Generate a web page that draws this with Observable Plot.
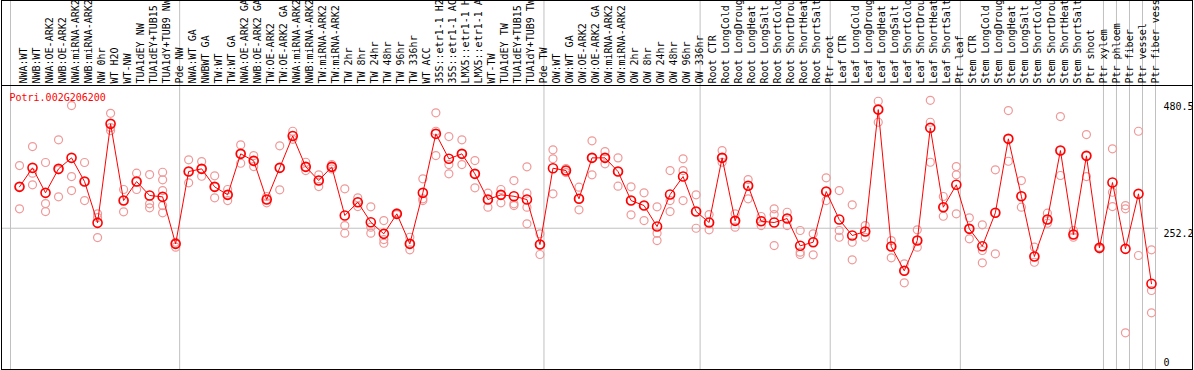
<!DOCTYPE html>
<html><head><meta charset="utf-8">
<script src="https://cdn.jsdelivr.net/npm/d3@7"></script>
<script src="https://cdn.jsdelivr.net/npm/@observablehq/plot@0.6"></script>
<style>html,body{margin:0;padding:0;background:#fff;overflow:hidden} #chart svg{display:block}</style>
</head><body><div id="chart"></div>
<script>
const geneId = "Potri.002G206200";

const samples = [
  "NWA:WT","NWB:WT","NWA:OE-ARK2","NWB:OE-ARK2","NWA:miRNA-ARK2","NWB:miRNA-ARK2","NW 0hr","WT H2O","WT-NW","TUA1dEY NW","TUA1dEY+TUB15 NW","TUA1dY+TUB9 NW","Pde NW",
  "NWA:WT GA","NWBWT GA","TW:WT","TW:WT GA","NWA:OE-ARK2 GA","NWB:OE-ARK2 GA","TW:OE-ARK2","TW:OE-ARK2 GA","NWA:miRNA-ARK2 GA","NWB:miRNA-ARK2 GA","TW:miRNA-ARK2","TW:miRNA-ARK2 GA",
  "TW 2hr","TW 8hr","TW 24hr","TW 48hr","TW 96hr","TW 336hr","WT ACC","35S::etr1-1 H2O","35S::etr1-1 ACC","LMX5::etr1-1 H2O","LMX5::etr1-1 ACC","WT-TW","TUA1dEY TW","TUA1dEY+TUB15 TW","TUA1dY+TUB9 TW","Pde TW",
  "OW:WT","OW:WT GA","OW:OE-ARK2","OW:OE-ARK2 GA","OW:miRNA-ARK2","OW:miRNA-ARK2 GA","OW 2hr","OW 8hr","OW 24hr","OW 48hr","OW 96hr","OW 336hr",
  "Root CTR","Root LongCold","Root LongDrought","Root LongHeat","Root LongSalt","Root ShortCold","Root ShortDrought","Root ShortHeat","Root ShortSalt","Ptr root",
  "Leaf CTR","Leaf LongCold","Leaf LongDrought","Leaf LongHeat","Leaf LongSalt","Leaf ShortCold","Leaf ShortDrought","Leaf ShortHeat","Leaf ShortSalt","Ptr leaf",
  "Stem CTR","Stem LongCold","Stem LongDrought","Stem LongHeat","Stem LongSalt","Stem ShortCold","Stem ShortDrought","Stem ShortHeat","Stem ShortSalt","Ptr shoot","Ptr xylem",
  "Ptr phloem","Ptr fiber","Ptr vessel","Ptr fiber vessel"
];

const means = [
  326.1, 360.0, 315.4, 358.2, 377.8, 335.5, 261.8, 438.5, 301.6, 335.5,
  310.6, 308.2, 224.3, 353.4, 358.2, 326.1, 311.8, 385.0, 372.5, 303.4,
  360.0, 416.9, 361.8, 337.3, 361.8, 274.9, 298.6, 262.9, 242.2, 277.9,
  224.3, 315.4, 420.7, 376.1, 385.0, 349.3, 303.4, 311.8, 309.3, 303.4,
  223.1, 359.3, 355.2, 304.7, 377.8, 377.8, 353.4, 301.6, 292.7, 255.2,
  312.3, 344.5, 282.0, 262.4, 377.8, 265.4, 327.9, 264.7, 262.4, 269.5,
  220.8, 227.2, 317.7, 267.7, 239.2, 246.3, 464.0, 219.5, 176.2, 230.2,
  431.4, 289.7, 329.7, 251.1, 220.1, 279.7, 411.8, 309.3, 201.7, 267.7,
  390.9, 240.9, 381.4, 217.2, 333.8, 215.4, 313.6, 153.0
];

const replicates = [
  [364.1, 326.6, 286.8], [398.0, 350.4, 329.7], [369.5, 296.3, 282.0], [410.0, 356.4, 308.2],
  [471.2, 344.5, 319.5], [369.5, 335.5, 301.6], [277.9, 271.3, 235.6], [457.4, 431.9, 426.6],
  [321.3, 301.6, 281.5], [350.4, 335.0, 321.3], [348.0, 295.7, 288.6], [352.1, 338.6, 319.5, 292.7, 279.7],
  [227.2, 224.3, 218.3], [374.3, 353.4, 333.2], [371.2, 358.2, 345.0], [345.7, 326.1, 306.4],
  [321.3, 311.8, 301.6], [401.0, 385.0, 368.2], [381.9, 372.5, 362.3], [308.8, 303.4, 297.5],
  [399.3, 360.0, 320.7], [425.3, 417.6, 411.0], [370.0, 361.8, 355.2], [347.5, 337.3, 326.6],
  [365.9, 361.8, 357.9], [322.5, 257.0, 243.3], [306.4, 298.6, 290.9], [290.4, 254.0, 243.3],
  [265.9, 232.0, 225.4], [279.7, 277.9, 276.6], [236.1, 224.3, 213.6], [340.4, 304.7, 301.6],
  [458.2, 425.3, 381.9], [415.9, 365.9, 349.3], [410.0, 385.0, 365.9], [373.0, 349.3, 324.3],
  [314.7, 303.4, 289.7], [321.3, 311.8, 297.5], [337.3, 295.7, 292.7], [361.8, 314.7, 289.7, 260.0],
  [242.2, 223.1, 205.3], [392.1, 376.1, 313.6], [358.7, 355.2, 351.6], [325.4, 304.7, 285.0],
  [408.2, 377.8, 347.5], [389.1, 377.8, 367.1], [377.8, 353.4, 327.2], [326.1, 301.6, 276.1],
  [315.4, 292.7, 265.9], [290.4, 243.3, 230.2], [355.2, 301.6, 282.0], [376.1, 355.2, 301.6],
  [311.8, 282.0, 252.2], [276.6, 262.4, 249.3], [390.9, 377.8, 370.0], [277.9, 265.4, 254.0],
  [339.1, 327.9, 304.7], [273.1, 264.7, 257.0], [286.8, 276.6, 221.3], [280.7, 269.5, 257.0],
  [248.1, 209.4, 205.3], [242.2, 227.2, 204.7], [342.1, 317.7, 301.6], [319.5, 248.1, 236.1],
  [294.0, 227.2, 195.8], [257.0, 246.3, 236.1], [478.9, 464.0, 441.4], [230.2, 219.5, 199.4],
  [188.7, 176.2, 154.7], [249.3, 230.2, 218.3], [480.5, 441.4, 370.0], [308.8, 289.7, 273.6],
  [362.3, 347.5, 277.9], [270.8, 251.1, 233.3], [258.3, 212.4, 190.4], [356.4, 279.7, 206.5],
  [462.3, 411.8, 371.8], [337.3, 309.3, 289.7], [218.3, 201.7, 191.5], [279.0, 267.7, 261.1],
  [451.6, 390.9, 346.3], [248.1, 240.9, 236.1], [419.4, 381.4, 344.5], [218.3, 217.2, 215.4],
  [393.9, 316.4, 290.9], [292.7, 286.8, 65.5], [425.3, 203.5], [213.6, 141.0, 101.2]
];

const groupStarts = [0, 13, 41, 53, 63, 73, 84, 85, 86, 87, 88];
const axisTicks = [480.5, 252.2, 0];
const yTop = 507;

const meanRows = means.map((v, i) => ({i, v}));
const repRows = replicates.flatMap((arr, i) => arr.map(v => ({i, v})));

const chart = Plot.plot({
  width: 1194,
  height: 370,
  marginLeft: 10,
  marginRight: 39,
  marginTop: 85,
  marginBottom: 1,
  x: {type: "linear", domain: [0, samples.length], axis: null},
  y: {domain: [0, yTop], axis: null},
  style: {fontFamily: "'DejaVu Sans Mono', monospace", fontSize: "10px", background: "white", color: "black"},
  marks: [
    Plot.ruleX(groupStarts, {x: d => d, stroke: "#c0c0c0", strokeOpacity: 1, insetTop: -85}),
    Plot.ruleY([axisTicks[1]], {y: d => d, stroke: "#c0c0c0", strokeOpacity: 1, insetLeft: -9, insetRight: -3}),
    Plot.frame({stroke: "black", insetTop: -85, insetLeft: -9, insetRight: -37}),
    Plot.frame({stroke: "black", insetTop: -85, insetBottom: 284, insetLeft: -9, insetRight: -37}),
    Plot.text(samples, {x: (d, i) => i, text: d => d, frameAnchor: "top", rotate: -90, textAnchor: "start", dx: 9, dy: -2, fill: "black"}),
    Plot.dot(repRows, {x: "i", y: "v", r: 4, stroke: "#f09898", strokeWidth: 1.2, dx: 9}),
    Plot.line(meanRows, {x: "i", y: "v", stroke: "#ff0000", strokeWidth: 1, dx: 9}),
    Plot.dot(meanRows, {x: "i", y: "v", r: 4.5, stroke: "#ff0000", strokeWidth: 1.6, dx: 9}),
    Plot.text([geneId], {text: d => d, frameAnchor: "top-left", textAnchor: "start", lineAnchor: "top", dx: -1, dy: 8, fill: "#ff0000"}),
    Plot.text(axisTicks, {filter: d => d > 0, y: d => d, text: d => String(d), frameAnchor: "right", textAnchor: "start", dx: 8, dy: 6, fill: "black"}),
    Plot.text(axisTicks, {filter: d => d === 0, y: d => d, text: d => String(d), frameAnchor: "right", textAnchor: "start", dx: 8, dy: -7, fill: "black"})
  ]
});
document.getElementById("chart").appendChild(chart);
</script>
</body></html>
